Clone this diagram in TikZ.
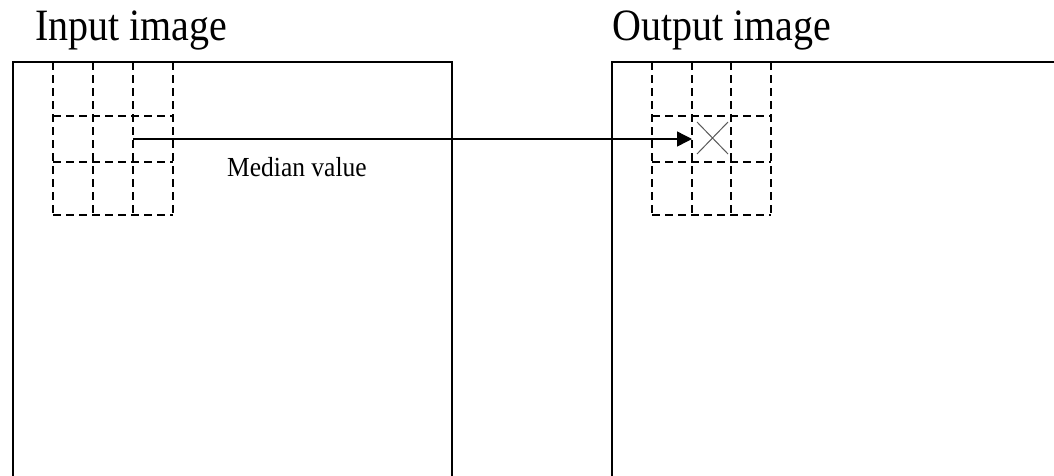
\documentclass[tikz,border=0pt]{standalone}
\usepackage{fontspec}
\setmainfont{Liberation Serif}
\usetikzlibrary{arrows.meta}
\begin{document}
\begin{tikzpicture}[x=1pt,y=-1pt,
  frame/.style={line width=1.4pt,draw=black},
  gridline/.style={line width=1.3pt,dash pattern=on 8pt off 5pt},
  title/.style={anchor=base west,inner sep=0pt,font=\fontsize{40}{40}\selectfont},
  lbl/.style={anchor=base west,inner sep=0pt,font=\fontsize{25.5}{25.5}\selectfont},
  conn/.style={line width=1.4pt,-{Triangle[length=15pt,width=15pt]}}]
\useasboundingbox (0,0) rectangle (1054,475);
\clip (0,0) rectangle (1054,475);
% titles
\node[title] (tin) at (35,40) {\scalebox{1}[1.12]{Input image}};
\node[title] (tout) at (612,40) {\scalebox{1}[1.12]{Output image}};
% frames
\draw[frame] (13,480) -- (13,62) -- (452,62) -- (452,480);
\draw[frame] (612,480) -- (612,62) -- (1060,62);
% left grid
\foreach \x in {53,93,133,173} \draw[gridline] (\x,62) -- (\x,215);
\foreach \y in {116,162,215} \draw[gridline] (53,\y) -- (173,\y);
% right grid
\foreach \x in {652,692,731,771} \draw[gridline] (\x,62) -- (\x,215);
\foreach \y in {116,162,215} \draw[gridline] (652,\y) -- (771,\y);
% cross in output cell
\coordinate (xa) at (697,122);
\coordinate (xb) at (728,154);
\coordinate (xc) at (728,122);
\coordinate (xd) at (697,154);
\draw[line width=1pt,draw=black!65] (xa) -- (xb) (xc) -- (xd);
% arrow
\coordinate (src) at (133,139);
\coordinate (dst) at (692,139);
\draw[conn] (src) -- (dst);
\node[lbl] (med) at (227,176) {\scalebox{1}[1.08]{Median value}};
\end{tikzpicture}
\end{document}
